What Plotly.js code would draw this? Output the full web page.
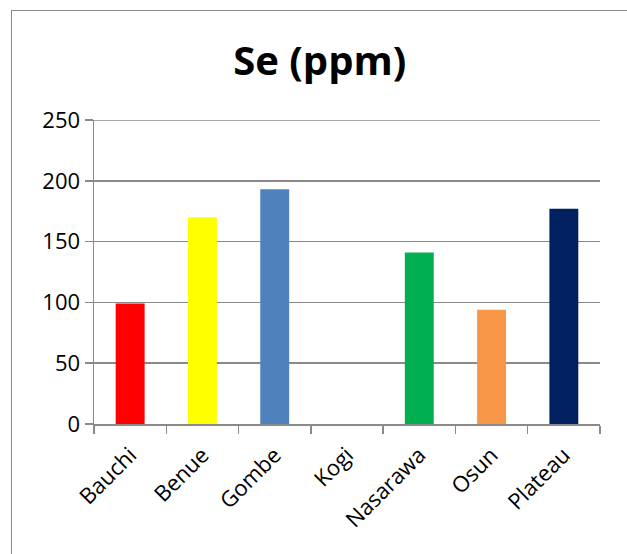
<!DOCTYPE html>
<html>
<head>
<meta charset="utf-8">
<script src="https://cdn.plot.ly/plotly-3.0.1.min.js"></script>
<style>
  html, body { margin: 0; padding: 0; background: #ffffff; overflow: hidden; }
  #wrap { position: relative; width: 627px; height: 554px; }
  #chart { position: absolute; left: 0; top: 0; width: 627px; height: 554px; }
  #frame { position: absolute; left: 11px; top: 10px; width: 640px; height: 600px;
           border: 1px solid #898989; pointer-events: none; box-sizing: border-box; }
</style>
</head>
<body>
<div id="wrap">
  <div id="chart"></div>
  <div id="frame"></div>
</div>
<script>
// Selenium concentration by state
const states = ["Bauchi", "Benue", "Gombe", "Kogi", "Nasarawa", "Osun", "Plateau"];
const seValues = [99, 170, 193, 0, 141, 94, 177];
const barColors = ["#FF0000", "#FFFF00", "#4F81BD", "#C0504D", "#00B050", "#F79646", "#002060"];
const yTicks = [0, 50, 100, 150, 200, 250];

const gridGray = "#8a8a8a";
const font = "Open Sans, Liberation Sans, sans-serif";

const trace = {
  type: "bar",
  x: states,
  y: seValues,
  width: 0.4,
  marker: { color: barColors, line: { width: 0 } },
  hoverinfo: "x+y"
};

const layout = {
  width: 627,
  height: 554,
  margin: { l: 94, r: 27, t: 120, b: 130 },
  paper_bgcolor: "#ffffff",
  plot_bgcolor: "#ffffff",
  showlegend: false,
  font: { family: font, color: "#000000", size: 22 },
  title: {
    text: "<b>Se (ppm)</b>",
    font: { family: font, size: 40, color: "#000000" },
    xref: "container", x: 0.51, xanchor: "center",
    yref: "container", y: 1 - 61 / 554, yanchor: "middle"
  },
  xaxis: {
    type: "category",
    tickangle: -45,
    showline: true,
    linecolor: gridGray,
    linewidth: 1.5,
    ticks: "outside",
    ticklen: 8,
    tickcolor: gridGray,
    tickwidth: 1.5,
    tickson: "boundaries",
    ticklabelstandoff: 8,
    showgrid: false,
    tickfont: { family: font, size: 22, color: "#000000" }
  },
  yaxis: {
    range: [0, 250],
    tickvals: yTicks,
    ticktext: yTicks.map(String),
    showline: true,
    linecolor: gridGray,
    linewidth: 1.5,
    ticks: "outside",
    ticklen: 8,
    tickcolor: gridGray,
    tickwidth: 1.5,
    showgrid: true,
    gridcolor: gridGray,
    gridwidth: 1.5,
    zeroline: false,
    tickfont: { family: font, size: 22, color: "#000000" }
  },
  // top gridline at the 250 boundary
  shapes: [{
    type: "line", xref: "paper", yref: "y",
    x0: 0, x1: 1, y0: 250, y1: 250,
    line: { color: gridGray, width: 1.5 }
  }],
  bargap: 0.6
};

Plotly.newPlot("chart", [trace], layout, { displayModeBar: false, staticPlot: true });
</script>
</body>
</html>
